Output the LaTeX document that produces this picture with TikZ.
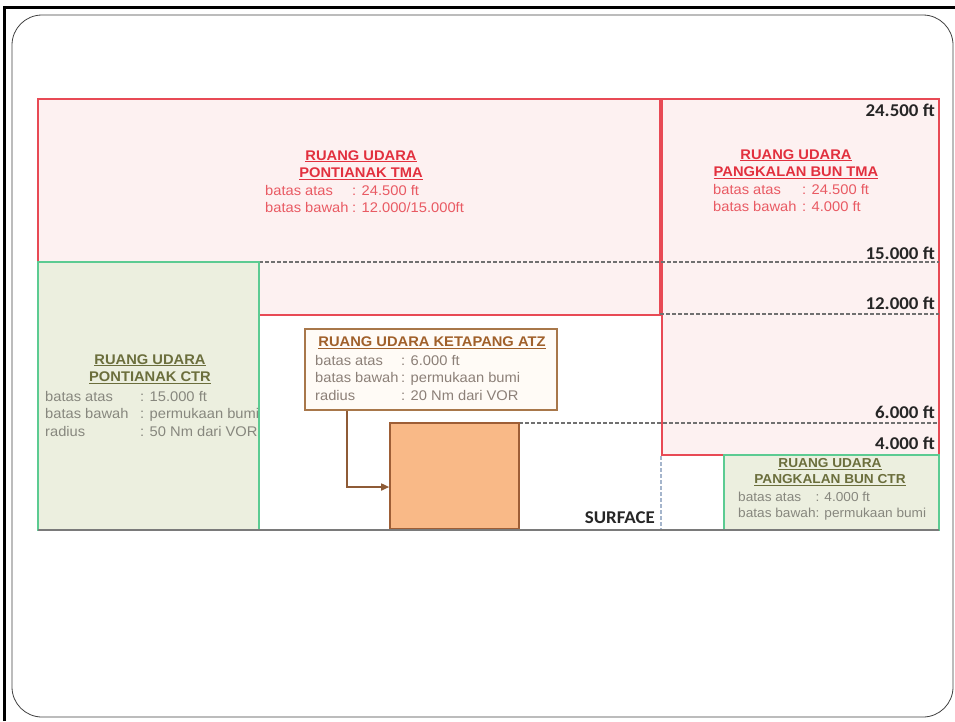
\documentclass[tikz,border=0pt]{standalone}
\usepackage{fontspec}
\setmainfont[FakeStretch=1.05]{Liberation Sans}
\newfontfamily\calibf[FakeStretch=1.05]{Carlito}
\usepackage{array}
\usetikzlibrary{arrows.meta}
\definecolor{tmaline}{HTML}{E84A55}
\definecolor{tmafill}{HTML}{FDF1F1}
\definecolor{tmatitle}{HTML}{E2303E}
\definecolor{tmabody}{HTML}{E95A63}
\definecolor{ctrline}{HTML}{5CCB92}
\definecolor{ctrfill}{HTML}{ECEFDF}
\definecolor{ctrtitle}{HTML}{6B6E3C}
\definecolor{ctrbody}{HTML}{87877E}
\definecolor{atzline}{HTML}{A8774A}
\definecolor{atzfill}{HTML}{FFFBF6}
\definecolor{atztitle}{HTML}{A0602A}
\definecolor{atzbody}{HTML}{8C8078}
\definecolor{sqfill}{HTML}{F9B987}
\definecolor{sqline}{HTML}{9E5E36}
\definecolor{arrcol}{HTML}{8E5B36}
\definecolor{dashcol}{HTML}{707070}
\definecolor{vdashcol}{HTML}{A5B5CC}
\definecolor{surfcol}{HTML}{7A7A7A}
\definecolor{ftcol}{HTML}{262626}
\begin{document}
\begin{tikzpicture}[x=1pt,y=-1pt,
  tma/.style={draw=tmaline, fill=tmafill, line width=2pt},
  ctr/.style={draw=ctrline, fill=ctrfill, line width=2pt},
  dsh/.style={draw=dashcol, line width=1.4pt, dash pattern=on 3.5pt off 2.5pt},
  vdsh/.style={draw=vdashcol, line width=1.2pt, dash pattern=on 3.5pt off 2.5pt},
  surf/.style={draw=surfcol, line width=2pt},
  ttl/.style={font=\fontsize{14}{17.5}\selectfont\bfseries, align=center, inner sep=0pt},
  bod/.style={font=\fontsize{14}{17.5}\selectfont, inner sep=0pt, anchor=base west},
  sttl/.style={font=\fontsize{13}{16}\selectfont\bfseries, align=center, inner sep=0pt},
  sbod/.style={font=\fontsize{13}{16}\selectfont, inner sep=0pt, anchor=base west},
  ftlab/.style={font=\calibf\fontsize{18}{20}\selectfont\bfseries, text=ftcol, inner sep=0pt, anchor=east},
  atzbox/.style={draw=atzline, fill=atzfill, line width=1.6pt, inner sep=0pt},
  sqbox/.style={draw=sqline, fill=sqfill, line width=1.6pt, inner sep=0pt},
  arr/.style={draw=arrcol, line width=1.6pt, -{Triangle[length=8pt,width=7pt]}}
]
\useasboundingbox (0,0) rectangle (955,721);
% frame
\draw[draw=black!75, line width=0.8pt, rounded corners=30pt] (12,15) rectangle (953,717);
\draw[black, line width=3pt] (4,721) -- (4,7) -- (955,7);
% TMA areas
\draw[tma] (38,99) rectangle (660,315);
\draw[tma] (662,99) rectangle (939,455);
% level lines
\draw[dsh] (259,262) -- (939,262);
\draw[dsh] (660,314) -- (939,314);
\draw[dsh] (519,423) -- (939,423);
\draw[vdsh] (661,456) -- (661,530);
% CTR areas
\draw[ctr] (38,262) rectangle (259,530);
\draw[ctr] (724,455) rectangle (939,530);
% ATZ
\node[sqbox, minimum width=129pt, minimum height=106pt] (sq) at (454.5,476) {};
\node[atzbox, minimum width=252pt, minimum height=81pt] (atz) at (431,369.5) {};
\draw[arr] ([xshift=43pt]atz.south west) |- ([yshift=-11pt]sq.west);
% surface
\draw[surf] (38,530) -- (939,530);
% texts
\node[ttl, text=tmatitle] (tmaPt) at (361,165) {\underline{RUANG UDARA}\\\underline{PONTIANAK TMA}};
\node[bod, text=tmabody] (tmaPb) at (265,195) {\begin{tabular}[t]{@{}p{87pt}@{}l@{}}batas atas & : 24.500 ft\\batas bawah& : 12.000/15.000ft\end{tabular}};
\node[ttl, text=tmatitle] (tmaBt) at (796,164) {\underline{RUANG UDARA}\\\underline{PANGKALAN BUN TMA}};
\node[bod, text=tmabody] (tmaBb) at (713,194) {\begin{tabular}[t]{@{}p{89pt}@{}l@{}}batas atas & : 24.500 ft\\batas bawah& : 4.000 ft\end{tabular}};
\node[ttl, text=ctrtitle] (ctrPt) at (150,369) {\underline{RUANG UDARA}\\\underline{PONTIANAK CTR}};
\node[bod, text=ctrbody] (ctrPb) at (45,401) {\begin{tabular}[t]{@{}p{95pt}@{}l@{}}batas atas & : 15.000 ft\\batas bawah & : permukaan bumi\\radius & : 50 Nm dari VOR\end{tabular}};
\node[sttl, text=ctrtitle] (ctrBt) at (830,472) {\underline{RUANG UDARA}\\\underline{PANGKALAN BUN CTR}};
\node[sbod, text=ctrbody] (ctrBb) at (738,501) {\begin{tabular}[t]{@{}l@{}l@{}}batas atas & : 4.000 ft\\batas bawah& : permukaan bumi\end{tabular}};
\node[ttl, text=atztitle] (atzt) at (432,343) {\underline{RUANG UDARA KETAPANG ATZ}};
\node[bod, text=atzbody] (atzb) at (315,365) {\begin{tabular}[t]{@{}p{86pt}@{}l@{}}batas atas & : 6.000 ft\\batas bawah & : permukaan bumi\\radius & : 20 Nm dari VOR\end{tabular}};
% level labels
\node[ftlab] (f245) at (935,110) {24.500 ft};
\node[ftlab] (f150) at (935,253) {15.000 ft};
\node[ftlab] (f120) at (935,303) {12.000 ft};
\node[ftlab] (f60) at (935,412) {6.000 ft};
\node[ftlab] (f40) at (935,443) {4.000 ft};
\node[ftlab] (surface) at (655,518) {SURFACE};
\end{tikzpicture}
\end{document}
